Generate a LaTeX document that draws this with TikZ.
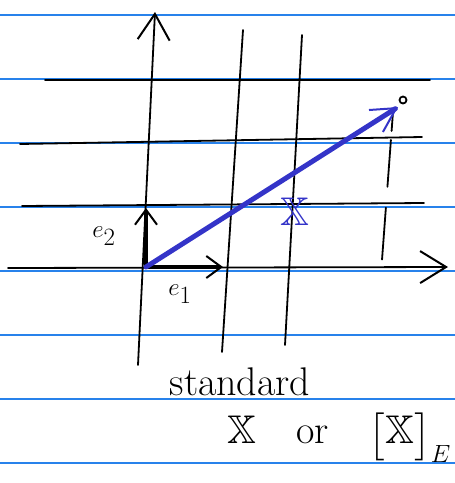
\documentclass[tikz,border=0pt]{standalone}
\usepackage{amsmath,amssymb}
\usepackage{tikz}
\usetikzlibrary{arrows.meta}
\definecolor{penblue}{RGB}{52,52,200}
\definecolor{ruleblue}{RGB}{40,130,235}

\begin{document}
\begin{tikzpicture}[
    x=1pt,y=-1pt,
    rule/.style={draw=ruleblue,line width=1.2pt},
    gridline/.style={draw=black,line width=1.8pt,line cap=round},
    axis/.style={gridline,-{Straight Barb[length=26pt,width=32pt,line width=2pt]}},
    basis/.style={draw=black,line width=4pt,-{Straight Barb[length=15pt,width=22pt,line width=2pt]}},
    vec/.style={draw=penblue,line width=5pt,line cap=round,-{Straight Barb[length=24pt,width=26pt,line width=2pt]}},
    dot/.style={circle,draw=black,line width=1.8pt,inner sep=0pt,minimum size=7pt},
    lbl/.style={font=\fontsize{40}{44}\selectfont},
    hand/.style={font=\fontsize{40}{44}\selectfont}
  ]
  \useasboundingbox (0,0) rectangle (455,483);
  \foreach \y in {15,79,...,463} \draw[rule] (0,\y) -- (455,\y);

  \draw[gridline] (45,80) -- (430,80);
  \draw[gridline] (20,144) -- (422,137);
  \draw[gridline] (22,206) -- (424,203);
  \draw[gridline] (243,30) -- (222,352);
  \draw[gridline] (302,35) -- (285,345);
  \draw[axis] (138,365) -- (155,12);
  \draw[axis] (8,268) -- (448,267);
  \draw[gridline,dash pattern=on 19pt off 9pt on 47pt off 21pt on 52pt] (393,112) -- (382,260);

  \coordinate (O) at (146,267);
  \coordinate (e1) at (223,267);
  \coordinate (e2) at (146,208);
  \coordinate (P) at (398,107);
  \node[dot] (pt) at (403,100) {};

  \draw[basis] (O) -- (e1);
  \draw[basis] (O) -- (e2);
  \draw[vec] (O) -- (P);

  \node[lbl] (e2lab) at (104,236) {$e_2$};
  \node[lbl] (e1lab) at (180,294) {$e_1$};
  \node[lbl,text=penblue] (xlab) at (295,212) {$\mathbb{X}$};
  \node[hand] (std) at (240,382) {standard};
  \node[hand,anchor=east,inner sep=2pt] (rep) at (453,438) {$\mathbb{X}$\quad or\quad $\bigl[\mathbb{X}\bigr]_{E}$};
\end{tikzpicture}
\end{document}
